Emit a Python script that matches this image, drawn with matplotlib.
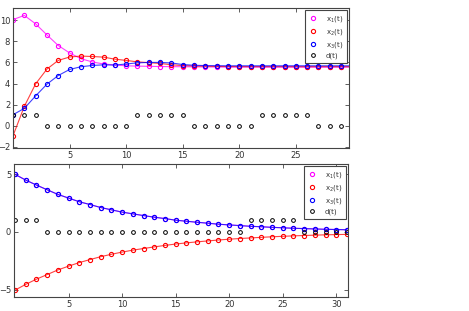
import matplotlib
matplotlib.use("Agg")
import matplotlib.pyplot as plt

# top panel: t = 0..30
t_top = list(range(31))
x1_top = [10.05, 10.45, 9.65, 8.6, 7.6, 6.9, 6.35, 6.05, 5.85, 5.76, 5.68, 5.65, 5.63, 5.61, 5.6,
          5.59, 5.58, 5.57, 5.57, 5.56, 5.56, 5.56, 5.55, 5.55, 5.55, 5.55, 5.55, 5.55, 5.55, 5.55, 5.55]
x2_top = [-0.95, 1.84, 3.97, 5.37, 6.19, 6.51, 6.6, 6.56, 6.5, 6.31, 6.19, 6.05, 5.98, 5.9, 5.78,
          5.7, 5.66, 5.64, 5.62, 5.61, 5.6, 5.6, 5.6, 5.6, 5.6, 5.6, 5.6, 5.6, 5.6, 5.6, 5.6]
x3_top = [1.05, 1.65, 2.83, 3.94, 4.76, 5.33, 5.59, 5.71, 5.77, 5.75, 5.85, 5.96, 6.0, 6.0, 5.95,
          5.8, 5.73, 5.7, 5.69, 5.68, 5.68, 5.68, 5.68, 5.68, 5.68, 5.68, 5.68, 5.68, 5.68, 5.68, 5.68]
d_top = [1, 1, 1, 0, 0, 0, 0, 0, 0, 0, 0, 1, 1, 1, 1, 1, 0, 0, 0, 0, 0, 0, 1, 1, 1, 1, 1, 0, 0, 0, 0]

# bottom panel: t = 0..31
t_bot = list(range(32))
x3_bot = [5.0, 4.5, 4.07, 3.66, 3.26, 2.94, 2.62, 2.38, 2.12, 1.92, 1.72, 1.57, 1.42, 1.28, 1.16, 1.02,
          0.93, 0.84, 0.76, 0.67, 0.61, 0.55, 0.49, 0.45, 0.4, 0.36, 0.32, 0.29, 0.26, 0.23, 0.21, 0.19]
x1_bot = x3_bot
x2_bot = [-5.05, -4.55, -4.1, -3.7, -3.3, -2.97, -2.66, -2.4, -2.15, -1.94, -1.75, -1.58, -1.44, -1.3,
          -1.17, -1.05, -0.95, -0.86, -0.78, -0.7, -0.63, -0.57, -0.52, -0.47, -0.42, -0.38, -0.34,
          -0.31, -0.28, -0.25, -0.23, -0.21]
d_bot = [1, 1, 1, 0, 0, 0, 0, 0, 0, 0, 0, 0, 0, 0, 0, 0, 0, 0, 0, 0, 0, 0, 1, 1, 1, 1, 1, 0, 0, 0, 0, 0]

labels = ['x$_1$(t)', 'x$_2$(t)', 'x$_3$(t)', 'd(t)']
colors = ['#ff00ff', '#ff0000', '#0000ff', '#000000']

fig = plt.figure(figsize=(4.69, 3.11), dpi=100)
ax1 = fig.add_axes([13 / 469, 1 - 148 / 311, 336 / 469, 140 / 311])
ax2 = fig.add_axes([14 / 469, 1 - 297 / 311, 334 / 469, 133 / 311])


def draw(ax, t, series, d):
    handles = []
    for y, c in zip(series, colors[:3]):
        ax.plot(t, y, '-', color=c, lw=0.8, alpha=0.75)
        h, = ax.plot(t, y, 'o', mfc='none', mec=c, ms=3.0, mew=0.8)
        handles.append(h)
    h, = ax.plot(t, d, 'o', mfc='none', mec='k', ms=2.7, mew=0.7)
    handles.append(h)
    leg = ax.legend(handles, labels, loc='upper right', fontsize=5, numpoints=1,
                    handlelength=1.2, handletextpad=1.2, borderpad=0.6, labelspacing=0.4,
                    borderaxespad=0.3, fancybox=False, framealpha=1, edgecolor='#444444')
    leg.get_frame().set_linewidth(0.8)
    for txt in leg.get_texts():
        txt.set_color('#333333')
    for s in ax.spines.values():
        s.set_color('#444444')
        s.set_linewidth(0.8)
    ax.tick_params(direction='in', top=True, right=True, labelsize=6, length=3,
                   width=0.6, colors='#444444', labelcolor='#333333', pad=2)


draw(ax1, t_top, [x1_top, x2_top, x3_top], d_top)
ax1.set_xlim(0, 29.7)
ax1.set_ylim(-2.1, 11.15)
ax1.set_xticks([5, 10, 15, 20, 25])
ax1.set_yticks([-2, 0, 2, 4, 6, 8, 10])

draw(ax2, t_bot, [x1_bot, x2_bot, x3_bot], d_bot)
ax2.set_xlim(-0.1, 31.1)
ax2.set_ylim(-5.65, 5.9)
ax2.set_xticks([5, 10, 15, 20, 25, 30])
ax2.set_yticks([-5, 0, 5])

fig.savefig('out.png', dpi=100)
